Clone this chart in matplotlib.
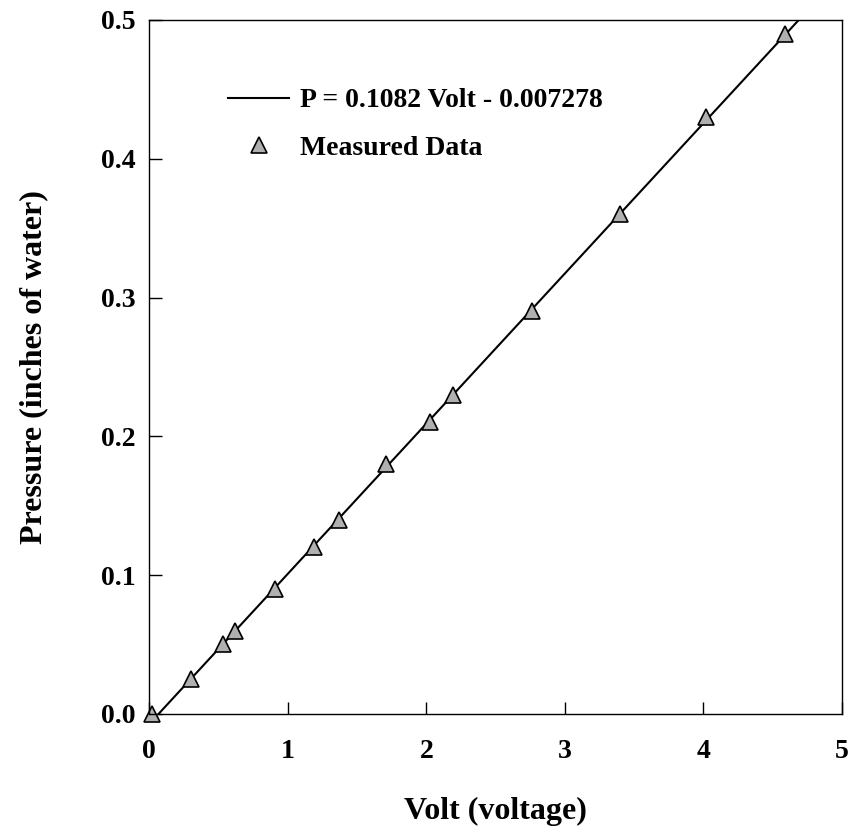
import numpy as np
import matplotlib.pyplot as plt

plt.rcParams['font.family'] = ['Liberation Serif', 'DejaVu Serif']
plt.rcParams['font.weight'] = 'bold'

# measured points
volt = [0.02, 0.30, 0.53, 0.62, 0.91, 1.19, 1.37, 1.71, 2.03, 2.19, 2.76, 3.40, 4.02, 4.59]
pressure = [0.0, 0.025, 0.05, 0.06, 0.09, 0.12, 0.14, 0.18, 0.21, 0.23, 0.29, 0.36, 0.43, 0.49]

# linear fit shown in the legend
slope = 0.1082
intercept = -0.007278
fit_x = np.array([0.0, 5.0])

fig = plt.figure(figsize=(8.53, 8.33), dpi=100)
ax = fig.add_axes([0.175, 0.143, 0.812, 0.833])

ax.plot(fit_x, slope * fit_x + intercept, color='black', lw=1.5,
        label='P = 0.1082 Volt - 0.007278')
ax.plot(volt, pressure, linestyle='none', marker='^', markersize=12,
        markerfacecolor='#b0b0b0', markeredgecolor='black', markeredgewidth=1.2,
        label='Measured Data', clip_on=False)

ax.set_xlim(0, 5)
ax.set_ylim(0, 0.5)
ax.set_xticks([0, 1, 2, 3, 4, 5])
ax.set_yticks([0.0, 0.1, 0.2, 0.3, 0.4, 0.5])
ax.set_yticklabels(['0.0', '0.1', '0.2', '0.3', '0.4', '0.5'])
ax.tick_params(direction='in', length=9, width=1, labelsize=20)
ax.tick_params(axis='x', pad=18)
ax.tick_params(axis='y', pad=10)
for s in ax.spines.values():
    s.set_linewidth(1.0)

ax.set_xlabel('Volt (voltage)', fontsize=23, fontweight='bold', labelpad=24)
ax.set_ylabel('Pressure (inches of water)', fontsize=23, fontweight='bold', labelpad=38)

ax.legend(loc='upper left', bbox_to_anchor=(0.114, 0.902), frameon=False,
          fontsize=20, handlelength=2.2, handletextpad=0.4, labelspacing=0.8,
          borderpad=0, borderaxespad=0)

fig.savefig('out.png', dpi=100)
